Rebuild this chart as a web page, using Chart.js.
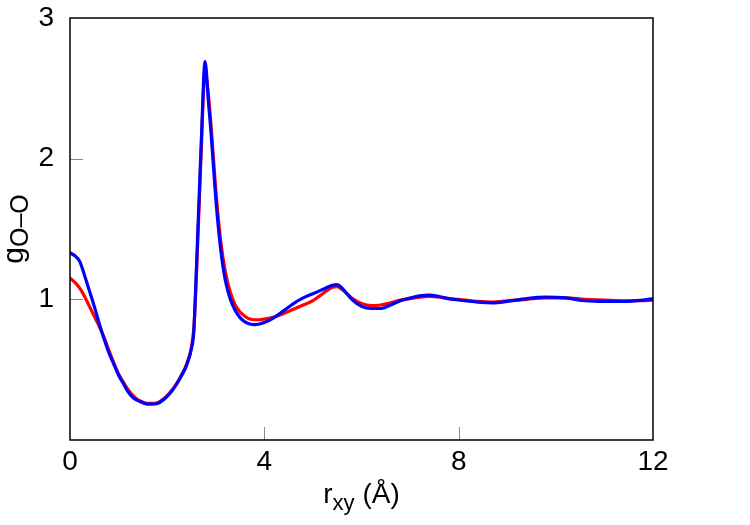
<!DOCTYPE html>
<html>
<head>
<meta charset="utf-8">
<script src="https://cdn.jsdelivr.net/npm/chart.js@4.4.1/dist/chart.umd.min.js"></script>
<style>
  html, body { margin: 0; padding: 0; background: #fff; }
  #wrap { width: 750px; height: 525px; }
</style>
</head>
<body>
<div id="wrap"><canvas id="c" width="750" height="525"></canvas></div>
<script>
// r_xy values (Å)
const rValues = [0,0.1,0.2,0.3,0.4,0.5,0.6,0.7,0.8,0.9,1.0,1.1,1.2,1.3,1.4,1.5,1.6,1.7,1.8,1.9,2.0,2.1,2.2,2.3,2.4,2.5,2.55,2.6,2.7,2.78,2.85,2.9,3.0,3.1,3.2,3.3,3.4,3.5,3.6,3.7,3.8,3.9,4.0,4.2,4.4,4.6,4.8,5.0,5.2,5.4,5.5,5.6,5.8,6.0,6.2,6.4,6.6,6.8,7.0,7.2,7.4,7.6,7.8,8.0,8.4,8.7,9.0,9.4,9.8,10.2,10.6,11.0,11.4,11.8,12.0];

// red series g_O-O
const redValues = [1.15,1.12,1.08,1.02,0.95,0.88,0.81,0.73,0.64,0.55,0.47,0.41,0.355,0.315,0.285,0.27,0.26,0.26,0.265,0.285,0.315,0.355,0.405,0.465,0.54,0.66,0.8,1.15,2.05,2.62,2.45,2.25,1.78,1.42,1.19,1.05,0.96,0.91,0.88,0.86,0.855,0.855,0.86,0.875,0.9,0.93,0.96,0.99,1.04,1.085,1.09,1.07,1.01,0.97,0.955,0.96,0.975,0.995,1.005,1.015,1.02,1.015,1.005,1.0,0.985,0.98,0.99,1.0,1.01,1.01,1.0,0.995,0.99,0.99,0.995];

// blue series g_O-O
const blueValues = [1.33,1.31,1.27,1.17,1.06,0.95,0.83,0.72,0.62,0.54,0.46,0.40,0.34,0.30,0.28,0.265,0.255,0.255,0.26,0.28,0.31,0.35,0.40,0.46,0.53,0.65,0.78,1.2,2.1,2.69,2.4,2.2,1.72,1.36,1.13,1.0,0.92,0.87,0.84,0.825,0.82,0.825,0.835,0.87,0.92,0.97,1.01,1.04,1.07,1.10,1.105,1.08,1.00,0.95,0.935,0.935,0.96,0.99,1.01,1.025,1.03,1.02,1.005,0.995,0.98,0.975,0.985,1.005,1.015,1.01,0.99,0.985,0.985,0.995,1.005];

const xTicks = [0, 4, 8, 12];
const yTicks = [0, 1, 2, 3];
const yTickLabels = ['', '1', '2', '3'];

const FONT = '"Liberation Sans", Arial, Helvetica, sans-serif';

const toPoints = (vals) => rValues.map((r, i) => ({ x: r, y: vals[i] }));

const framePlugin = {
  id: 'frame',
  afterDatasetsDraw(chart) {
    const { ctx, chartArea: a, scales } = chart;
    ctx.save();
    // inward tick marks
    ctx.strokeStyle = '#8a8a8a';
    ctx.lineWidth = 1;
    ctx.beginPath();
    [1, 2].forEach(v => {
      const y = Math.round(scales.y.getPixelForValue(v)) + 0.5;
      ctx.moveTo(a.left, y); ctx.lineTo(a.left + 13, y);
    });
    [4, 8].forEach(v => {
      const x = Math.round(scales.x.getPixelForValue(v)) + 0.5;
      ctx.moveTo(x, a.bottom); ctx.lineTo(x, a.bottom - 13);
    });
    ctx.stroke();
    // frame
    ctx.strokeStyle = '#000';
    ctx.lineWidth = 1.5;
    ctx.strokeRect(a.left, a.top, a.right - a.left, a.bottom - a.top);
    ctx.restore();
  },
  afterDraw(chart) {
    const { ctx, chartArea: a } = chart;
    ctx.save();
    ctx.fillStyle = '#000';
    ctx.textBaseline = 'alphabetic';
    // x title: r_xy (Å)
    const main = '28px ' + FONT, sub = '22px ' + FONT;
    ctx.font = main; const wr = ctx.measureText('r').width;
    ctx.font = sub; const wxy = ctx.measureText('xy').width;
    ctx.font = main; const wrest = ctx.measureText(' (Å)').width;
    const total = wr + wxy + wrest;
    let x0 = (a.left + a.right) / 2 - total / 2;
    const yb = 503;
    ctx.textAlign = 'left';
    ctx.font = main; ctx.fillText('r', x0, yb);
    ctx.font = sub; ctx.fillText('xy', x0 + wr, yb + 7);
    ctx.font = main; ctx.fillText(' (Å)', x0 + wr + wxy, yb);
    // y title: g_O–O rotated
    const gmain = '30px ' + FONT, gsub = '25px ' + FONT;
    ctx.translate(23, (a.top + a.bottom) / 2);
    ctx.rotate(-Math.PI / 2);
    ctx.font = gmain; const wg = ctx.measureText('g').width;
    ctx.font = gsub; const wo = ctx.measureText('O–O').width;
    const t2 = wg + wo;
    ctx.font = gmain; ctx.fillText('g', -t2 / 2, 0);
    ctx.font = gsub; ctx.fillText('O–O', -t2 / 2 + wg, 5);
    ctx.restore();
  }
};

new Chart(document.getElementById('c'), {
  type: 'line',
  data: {
    datasets: [
      {
        label: 'blue',
        data: toPoints(blueValues),
        borderColor: '#0000ff',
        borderWidth: 3.2,
        pointRadius: 0,
        cubicInterpolationMode: 'monotone',
        borderJoinStyle: 'round',
        borderCapStyle: 'round',
        fill: false
      },
      {
        label: 'red',
        data: toPoints(redValues),
        borderColor: '#ff0000',
        borderWidth: 3.2,
        pointRadius: 0,
        cubicInterpolationMode: 'monotone',
        borderJoinStyle: 'round',
        borderCapStyle: 'round',
        fill: false
      }
    ]
  },
  options: {
    responsive: false,
    animation: false,
    devicePixelRatio: 1,
    layout: { padding: { top: 18, right: 97, left: 0, bottom: 0 } },
    plugins: { legend: { display: false }, tooltip: { enabled: false } },
    scales: {
      x: {
        type: 'linear',
        min: 0, max: 12,
        afterBuildTicks: (s) => { s.ticks = xTicks.map(v => ({ value: v })); },
        afterFit: (s) => { s.height = 85; s.paddingLeft = 0; s.paddingRight = 0; },
        grid: { display: false, drawTicks: false },
        border: { display: false },
        ticks: { color: '#000', font: { family: FONT, size: 28 }, padding: 5, maxRotation: 0,
                 callback: (v) => String(v) }
      },
      y: {
        type: 'linear',
        min: 0, max: 3,
        afterBuildTicks: (s) => { s.ticks = yTicks.map(v => ({ value: v })); },
        afterFit: (s) => { s.width = 70; s.paddingTop = 0; s.paddingBottom = 0; },
        grid: { display: false, drawTicks: false },
        border: { display: false },
        ticks: { color: '#000', font: { family: FONT, size: 28 }, padding: 16,
                 callback: (v) => yTickLabels[yTicks.indexOf(v)] }
      }
    }
  },
  plugins: [framePlugin]
});
</script>
</body>
</html>
